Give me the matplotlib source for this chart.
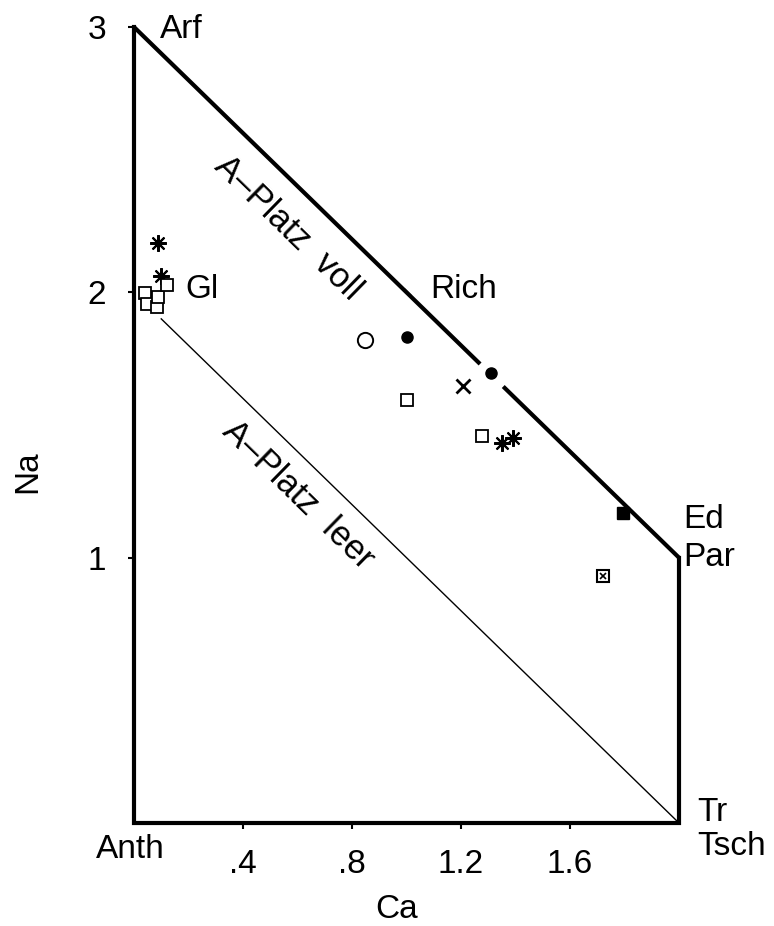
import numpy as np
import matplotlib
matplotlib.use('Agg')
import matplotlib.pyplot as plt

plt.rcParams['font.family'] = ['Liberation Sans', 'DejaVu Sans']

# Umriss des Diagramms (Ca, Na)
outer_ca = [0.0, 0.0, 2.0, 2.0]
outer_na = [3.0, 0.0, 0.0, 1.0]
voll_ca_a = [0.0, 1.27]      # Linie "A-Platz voll", vor der Lücke
voll_ca_b = [1.355, 2.0]     # nach der Lücke
leer_ca = [0.10, 2.0]        # Linie "A-Platz leer"

# Messpunkte
star_ca = [0.088, 0.099, 1.350, 1.391]
star_na = [2.186, 2.062, 1.432, 1.451]
osq_ca = [0.040, 0.048, 0.084, 0.088, 0.121, 1.002, 1.277]
osq_na = [1.998, 1.956, 1.945, 1.983, 2.028, 1.594, 1.459]
ocirc_ca = [0.848]
ocirc_na = [1.821]
fcirc_ca = [1.002, 1.310]
fcirc_na = [1.832, 1.696]
cross_ca = [1.207]
cross_na = [1.647]
fsq_ca = [1.794]
fsq_na = [1.168]
xsq_ca = [1.721]
xsq_na = [0.931]

xticks = [0.4, 0.8, 1.2, 1.6]
xtick_labels = ['.4', '.8', '1.2', '1.6']
yticks = [1, 2, 3]
ytick_labels = ['1', '2', '3']

fig = plt.figure(figsize=(7.74, 9.26), dpi=100)
ax = fig.add_axes([134 / 774, 103 / 926, 545 / 774, 796 / 926])
ax.set_xlim(0, 2)
ax.set_ylim(0, 3)

for s in ax.spines.values():
    s.set_visible(False)

lw = 3.0
ax.plot(outer_ca, outer_na, color='black', lw=lw, clip_on=False,
        solid_joinstyle='miter', solid_capstyle='projecting')
va = np.array(voll_ca_a)
vb = np.array(voll_ca_b)
ax.plot(va, 3 - va, color='black', lw=lw, clip_on=False, solid_capstyle='butt')
ax.plot(vb, 3 - vb, color='black', lw=lw, clip_on=False, solid_capstyle='butt')
lc = np.array(leer_ca)
ax.plot(lc, 2 - lc, color='black', lw=1.0, clip_on=False)

# Markierung Rich
ax.plot([1.0], [2.0], marker=(2, 2, 45), ms=7, mew=1.5, color='black')

ms = 9
ax.plot(star_ca, star_na, ls='none', marker=(8, 2, 0), ms=12, mew=1.5, color='black')
ax.plot(osq_ca, osq_na, ls='none', marker='s', ms=ms, mfc='white', mec='black', mew=1.3)
ax.plot(ocirc_ca, ocirc_na, ls='none', marker='o', ms=11, mfc='white', mec='black', mew=1.4)
ax.plot(fcirc_ca, fcirc_na, ls='none', marker='o', ms=8, color='black')
ax.plot(cross_ca, cross_na, ls='none', marker='x', ms=10, mew=2.0, color='black')
ax.plot(fsq_ca, fsq_na, ls='none', marker='s', ms=9, color='black')
ax.plot(xsq_ca, xsq_na, ls='none', marker='s', ms=8, mfc='white', mec='black', mew=1.5)
ax.plot(xsq_ca, xsq_na, ls='none', marker='x', ms=4, mew=1.2, color='black')

fs = 24
ax.set_xticks(xticks)
ax.set_xticklabels(xtick_labels)
ax.set_yticks(yticks)
ax.set_yticklabels(ytick_labels)
ax.tick_params(axis='both', direction='out', length=4, width=1.5, labelsize=fs)
ax.tick_params(axis='x', pad=15)
ax.tick_params(axis='y', pad=16)

# Achsenbeschriftungen
fig.text(397 / 774, 1 - 909 / 926, 'Ca', fontsize=fs, ha='center', va='center')
fig.text(28 / 774, 1 - 472 / 926, 'Na', fontsize=fs, ha='center', va='center',
         rotation=90)

kw = dict(fontsize=fs, clip_on=False)
ax.text(0.095, 2.99, 'Arf', ha='left', va='center', **kw)
ax.text(0.187, 2.01, 'Gl', ha='left', va='center', **kw)
ax.text(1.086, 2.01, 'Rich', ha='left', va='center', **kw)
ax.text(2.015, 1.142, 'Ed', ha='left', va='center', **kw)
ax.text(2.015, 1.0, 'Par', ha='left', va='center', **kw)
ax.text(2.066, 0.041, 'Tr', ha='left', va='center', **kw)
ax.text(2.066, -0.09, 'Tsch', ha='left', va='center', **kw)
ax.text(0.114, -0.10, 'Anth', ha='right', va='center', **kw)

ax.text(0.565, 2.243, 'A\u2013Platz  voll', ha='center', va='center',
        rotation=-44.3, rotation_mode='anchor', fontsize=25, clip_on=False)
ax.text(0.602, 1.236, 'A\u2013Platz  leer', ha='center', va='center',
        rotation=-44.3, rotation_mode='anchor', fontsize=25, clip_on=False)

fig.savefig('out.png', dpi=100)
